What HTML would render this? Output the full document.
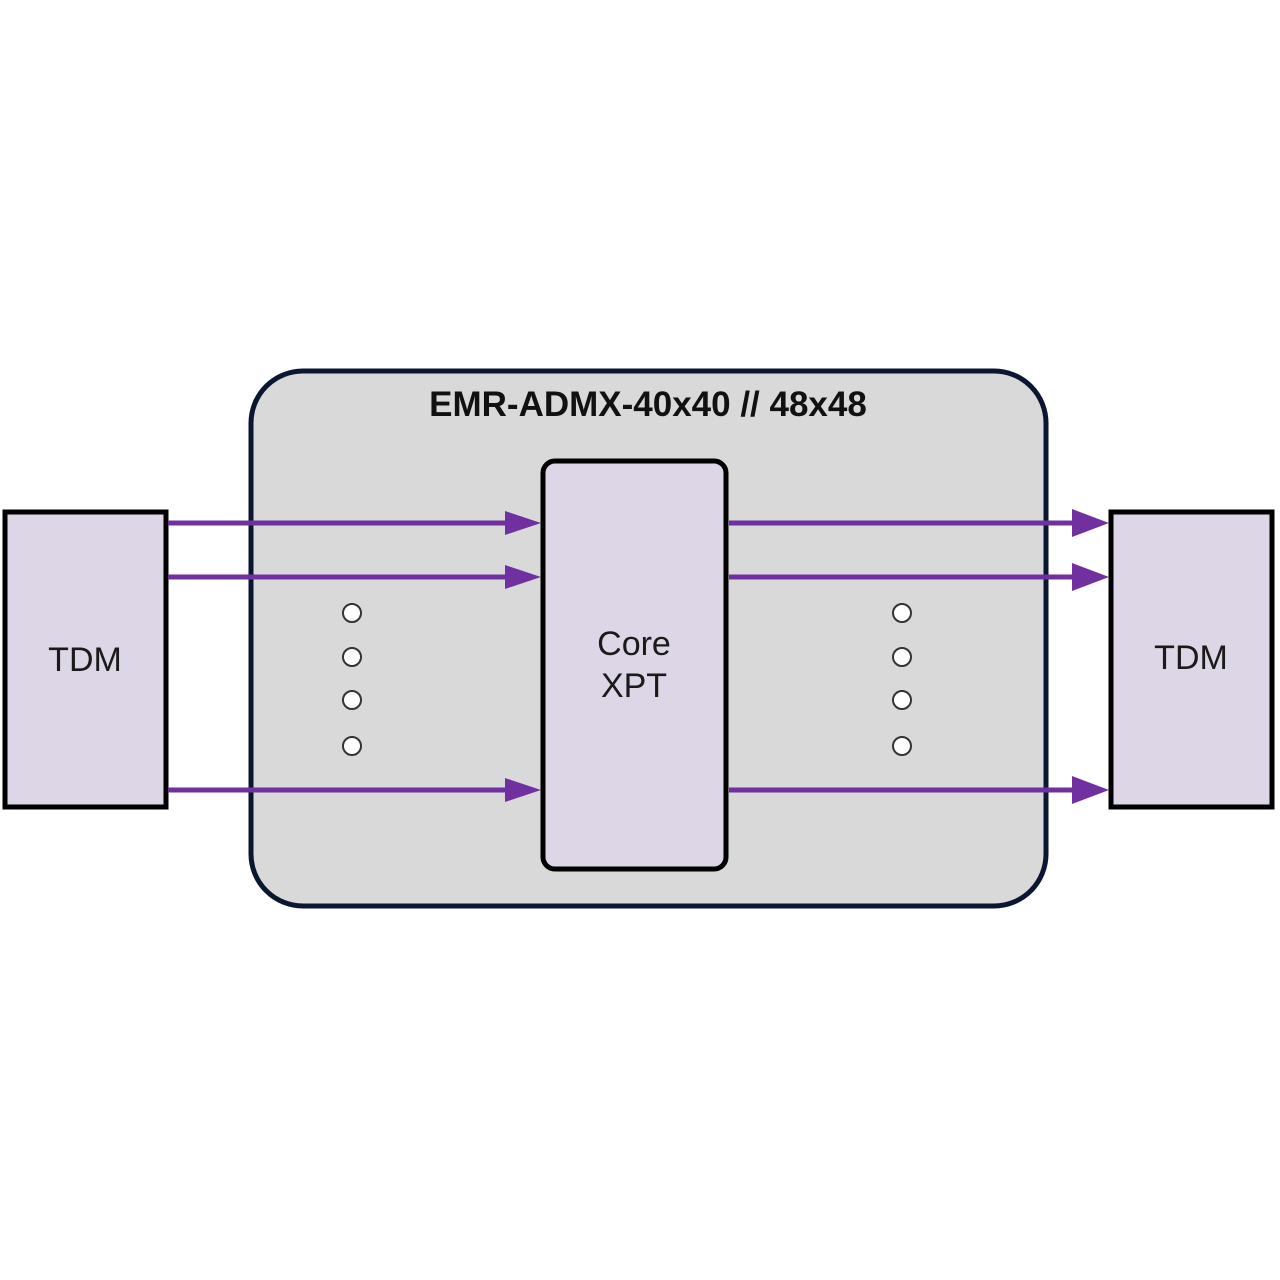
<!DOCTYPE html>
<html>
<head>
<meta charset="utf-8">
<style>
  html, body { margin:0; padding:0; background:#ffffff; }
  svg { display:block; }
  text { font-family: "Liberation Sans", Arial, sans-serif; }
</style>
</head>
<body>
<svg width="1280" height="1280" viewBox="0 0 1280 1280" xmlns="http://www.w3.org/2000/svg">
  <rect x="0" y="0" width="1280" height="1280" fill="#ffffff"/>

  <!-- Outer chassis -->
  <rect x="251" y="371" width="795" height="535" rx="52" ry="52" fill="#d9d9d9" stroke="#0b1630" stroke-width="5"/>
  <text x="648" y="416" text-anchor="middle" font-size="35" font-weight="bold" fill="#111111">EMR-ADMX-40x40 // 48x48</text>

  <!-- Core XPT -->
  <rect x="543" y="461" width="183" height="408" rx="12" ry="12" fill="#ddd6e6" stroke="#000000" stroke-width="5"/>
  <text x="634" y="655" text-anchor="middle" font-size="34" fill="#1a1a1a">Core</text>
  <text x="634" y="697" text-anchor="middle" font-size="34" fill="#1a1a1a">XPT</text>

  <!-- Left TDM -->
  <rect x="5" y="512" width="161" height="295" fill="#ddd6e6" stroke="#000000" stroke-width="5"/>
  <text x="85" y="671" text-anchor="middle" font-size="34" fill="#1a1a1a">TDM</text>

  <!-- Right TDM -->
  <rect x="1111" y="512" width="161" height="295" fill="#ddd6e6" stroke="#000000" stroke-width="5"/>
  <text x="1191" y="669" text-anchor="middle" font-size="34" fill="#1a1a1a">TDM</text>

  <!-- Left connectors -->
  <g stroke="#7030a0" stroke-width="5" fill="none">
    <line x1="168" y1="523" x2="508" y2="523"/>
    <line x1="168" y1="577" x2="508" y2="577"/>
    <line x1="168" y1="790" x2="508" y2="790"/>
    <line x1="729" y1="523" x2="1074" y2="523"/>
    <line x1="729" y1="577" x2="1074" y2="577"/>
    <line x1="729" y1="790" x2="1074" y2="790"/>
  </g>
  <g fill="#7030a0">
    <polygon points="505,511 541,523 505,535"/>
    <polygon points="505,565 541,577 505,589"/>
    <polygon points="505,778 541,790 505,802"/>
    <polygon points="1072,509 1109,523 1072,537"/>
    <polygon points="1072,563 1109,577 1072,591"/>
    <polygon points="1072,776 1109,790 1072,804"/>
  </g>

  <!-- Dots -->
  <g fill="#ffffff" stroke="#333333" stroke-width="2">
    <circle cx="352" cy="613" r="9"/>
    <circle cx="352" cy="657" r="9"/>
    <circle cx="352" cy="700" r="9"/>
    <circle cx="352" cy="746" r="9"/>
    <circle cx="902" cy="613" r="9"/>
    <circle cx="902" cy="657" r="9"/>
    <circle cx="902" cy="700" r="9"/>
    <circle cx="902" cy="746" r="9"/>
  </g>
</svg>
</body>
</html>
